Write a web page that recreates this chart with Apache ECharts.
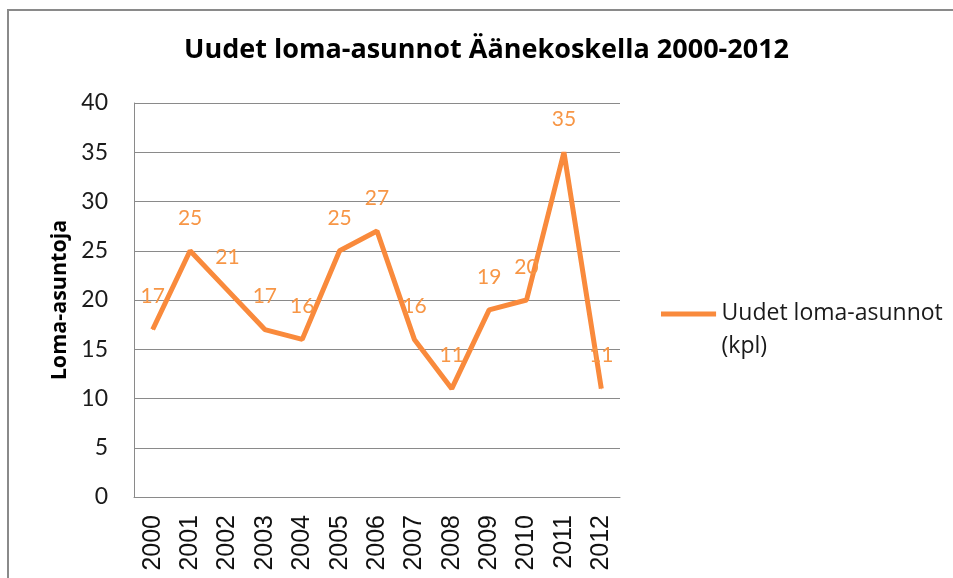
<!DOCTYPE html>
<html>
<head>
<meta charset="utf-8">
<script src="https://cdn.jsdelivr.net/npm/echarts@6/dist/echarts.min.js"></script>
<style>
html,body{margin:0;padding:0;background:#fff;}
#c{width:953px;height:578px;}
</style>
</head>
<body>
<div id="c"></div>
<script>
const titleText = 'Uudet loma-asunnot Äänekoskella 2000-2012';
const yAxisName = 'Loma-asuntoja';
const seriesName = 'Uudet loma-asunnot\n(kpl)';
const years = ['2000','2001','2002','2003','2004','2005','2006','2007','2008','2009','2010','2011','2012'];
const values = [17, 25, 21, 17, 16, 25, 27, 16, 11, 19, 20, 35, 11];

const lineColor = '#F98A3C';
const labelColor = '#F79646';

const chart = echarts.init(document.getElementById('c'), null, {renderer: 'canvas'});
chart.setOption({
  backgroundColor: '#fff',
  animation: false,
  title: {
    text: titleText,
    left: 179,
    top: 32,
    textStyle: {fontFamily: 'Open Sans', fontWeight: 'bold', fontSize: 27, color: '#000'}
  },
  graphic: [{
    type: 'rect',
    shape: {x: 8, y: 10, width: 1000, height: 700},
    style: {fill: 'none', stroke: '#8a8a8a', lineWidth: 2},
    silent: true
  }],
  legend: {
    orient: 'vertical',
    left: 656,
    top: 292,
    itemWidth: 56,
    itemHeight: 37,
    icon: 'path://M0,0h55v5h-55z M0,36.9h0.05v0.05h-0.05z',
    textStyle: {fontFamily: 'Open Sans', fontSize: 23, color: '#1a1a1a', lineHeight: 33},
    data: [seriesName]
  },
  grid: {left: 134, right: 333, top: 103, bottom: 81, containLabel: false},
  xAxis: {
    type: 'category',
    data: years,
    boundaryGap: true,
    axisLine: {show: true, lineStyle: {color: '#8a8a8a', width: 1}},
    axisTick: {show: false},
    axisLabel: {rotate: 90, margin: 18, fontFamily: 'Liberation Sans', fontSize: 25, color: '#111', interval: 0}
  },
  yAxis: {
    type: 'value',
    min: 0, max: 40, interval: 5,
    name: yAxisName,
    nameLocation: 'middle',
    nameGap: 63,
    nameTextStyle: {fontFamily: 'Open Sans', fontWeight: 'bold', fontSize: 21.5, color: '#000'},
    axisLine: {show: true, lineStyle: {color: '#8a8a8a', width: 1}},
    axisTick: {show: false},
    splitLine: {show: true, lineStyle: {color: '#8a8a8a', width: 1}},
    axisLabel: {margin: 26, fontFamily: 'Lato', fontSize: 23, color: '#1a1a1a'}
  },
  series: [{
    name: seriesName,
    type: 'line',
    data: values,
    symbol: 'circle',
    symbolSize: 1,
    showSymbol: true,
    itemStyle: {color: lineColor},
    lineStyle: {color: lineColor, width: 5},
    label: {show: true, position: 'top', distance: 22, fontFamily: 'Lato', fontSize: 21, color: labelColor}
  }]
});
</script>
</body>
</html>
